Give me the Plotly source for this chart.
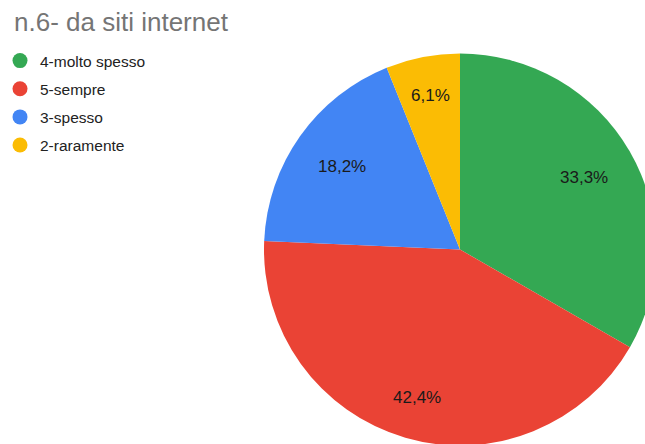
import math
import plotly.graph_objects as go

# Survey answers for question n.6 (share of respondents, %)
categories = ["4-molto spesso", "5-sempre", "3-spesso", "2-raramente"]
shares = [33.3, 42.4, 18.2, 6.1]
colors = ["#34A853", "#EA4335", "#4285F4", "#FBBC04"]
title_text = "n.6- da siti internet"

FONT = "Liberation Sans, Arial, sans-serif"
W, H = 700, 500          # canvas is larger than the viewport so the pie runs off the edges
CX, CY, R = 460, 249.5, 196
LABEL_FS = 17

fig = go.Figure()

fig.add_trace(go.Pie(
    labels=categories,
    values=shares,
    marker=dict(colors=colors, line=dict(width=0)),
    sort=False,
    direction="clockwise",
    rotation=0,
    textinfo="none",
    hoverinfo="label+percent",
    showlegend=False,
    domain=dict(x=[(CX - R) / W, (CX + R) / W],
                y=[1 - (CY + R) / H, 1 - (CY - R) / H]),
))

# Legend entries with round markers
for name, col in zip(categories, colors):
    fig.add_trace(go.Scatter(
        x=[None], y=[None], mode="markers", name=name, legendgroup=name,
        marker=dict(symbol="circle", size=15, color=col),
    ))

# Percentage labels inside each slice, comma decimal separator
EM = {"0": .556, "1": .556, "2": .556, "3": .556, "4": .556, "5": .556,
      "6": .556, "7": .556, "8": .556, "9": .556, ",": .278, "%": .889}
total = sum(shares)
cum = 0.0
for v in shares:
    mid = (cum + v / 2) / total * 2 * math.pi
    cum += v
    txt = f"{v:.1f}".replace(".", ",") + "%"
    hw = 0.5 * LABEL_FS * sum(EM.get(c, .556) for c in txt)
    hh = 0.42 * LABEL_FS
    dx, dy = math.sin(mid), -math.cos(mid)
    rc = 0.857 * R - (hw * abs(dx) + hh * abs(dy))
    px, py = CX + rc * dx, CY + rc * dy
    fig.add_annotation(
        x=px / W, y=1 - py / H, xref="paper", yref="paper",
        text=txt, showarrow=False, xanchor="center", yanchor="middle",
        font=dict(family=FONT, size=LABEL_FS, color="#1a1a1a"),
    )

fig.update_layout(
    width=W, height=H,
    margin=dict(l=0, r=0, t=0, b=0),
    paper_bgcolor="white", plot_bgcolor="white",
    title=dict(text=title_text, x=14 / W, xanchor="left", y=1 - 22 / H, yanchor="middle",
               font=dict(family=FONT, size=26, color="#757575")),
    xaxis=dict(visible=False), yaxis=dict(visible=False),
    legend=dict(x=0, y=1 - 44 / H, xanchor="left", yanchor="top",
                font=dict(family=FONT, size=15.5, color="#222222"),
                tracegroupgap=5, bgcolor="rgba(0,0,0,0)", itemwidth=30),
)

fig.write_html(
    "out.html",
    post_script="document.body.style.margin='0';document.body.style.overflow='hidden';"
                "document.documentElement.style.overflow='hidden';",
)
